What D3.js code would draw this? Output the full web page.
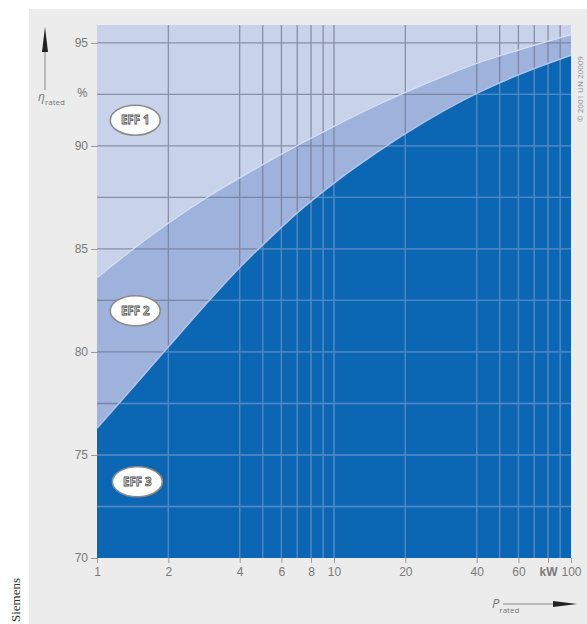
<!DOCTYPE html>
<html>
<head>
<meta charset="utf-8">
<script src="https://cdn.jsdelivr.net/npm/d3@7"></script>
<style>
  body { margin: 0; background: #ffffff; }
  #chart { width: 587px; height: 624px; }
</style>
</head>
<body>
<div id="chart"></div>
<script>

// rated power (kW) and efficiency limits
var powers      = [1, 1.5, 2, 3, 4, 5.5, 7.5, 10, 15, 20, 30, 40, 60, 100]
var eff1Limit   = [83.6, 85.2, 86.25, 87.6, 88.45, 89.35, 90.2, 90.95, 91.95, 92.6, 93.45, 94.0, 94.65, 95.4]
var eff2Limit   = [76.3, 78.6, 80.25, 82.55, 84.1, 85.65, 87.05, 88.2, 89.65, 90.6, 91.8, 92.55, 93.45, 94.4]

var xGrid       = [2, 4, 5, 6, 7, 8, 9, 10, 20, 40, 50, 60, 70, 80, 90]
var yGrid       = [72.5, 75, 77.5, 80, 82.5, 85, 87.5, 90, 92.5, 95]
var yTicks      = [70, 75, 80, 85, 90, 95]
var xTicks      = [1, 2, 4, 6, 8, 10, 20, 40, 60, 80, 100]
var xTickLabels = ["1", "2", "4", "6", "8", "10", "20", "40", "60", "kW", "100"]

var classNames  = ["EFF 1", "EFF 2", "EFF 3"]
var classAtP    = [1.45, 1.45, 1.48]
var classAtEff  = [91.25, 82.0, 73.7]

var W = 587, H = 624
var plotL = 97, plotR = 571, plotT = 25, plotB = 558

var svg = d3.select("#chart")
    .append("svg")
    .attr("width", W)
    .attr("height", H)
    .style("font-family", "'Open Sans', 'DejaVu Sans', sans-serif")

// grey panel behind the chart
svg.append("rect")
    .attr("x", 29).attr("y", 9)
    .attr("width", W - 29).attr("height", H - 9)
    .attr("fill", "#ececec")

var x = d3.scaleLog().domain([1, 100]).range([plotL, plotR])
var y = d3.scaleLinear().domain([70, 95.87]).range([plotB, plotT])

var rows = powers.map(function(p, i) { return {p: p, a: eff1Limit[i], b: eff2Limit[i]} })

// EFF 1 region = whole plot
svg.append("rect")
    .attr("x", plotL).attr("y", plotT)
    .attr("width", plotR - plotL).attr("height", plotB - plotT)
    .attr("fill", "#c8d2ea")

// EFF 2 band
svg.append("path")
    .datum(rows)
    .attr("fill", "#9eb2db")
    .attr("d", d3.area()
        .curve(d3.curveMonotoneX)
        .x(function(d) { return x(d.p) })
        .y0(plotB)
        .y1(function(d) { return y(d.a) }))

// EFF 3 area
var eff3Area = d3.area()
    .curve(d3.curveMonotoneX)
    .x(function(d) { return x(d.p) })
    .y0(plotB)
    .y1(function(d) { return y(d.b) })

svg.append("path")
    .datum(rows)
    .attr("fill", "#0b66b3")
    .attr("d", eff3Area)

svg.append("clipPath").attr("id", "eff3clip")
    .append("path").datum(rows).attr("d", eff3Area)

// grid lines, drawn twice: dark on the light bands, light on the dark blue
function drawGrid(g, colour, width) {
    g.selectAll(".gx").data(xGrid).enter().append("line")
        .attr("x1", function(d) { return x(d) }).attr("x2", function(d) { return x(d) })
        .attr("y1", plotT).attr("y2", plotB)
        .attr("stroke", colour).attr("stroke-width", width)
    g.selectAll(".gy").data(yGrid).enter().append("line")
        .attr("x1", plotL).attr("x2", plotR)
        .attr("y1", function(d) { return y(d) }).attr("y2", function(d) { return y(d) })
        .attr("stroke", colour).attr("stroke-width", width)
}

drawGrid(svg.append("g").attr("opacity", 0.7), "#6f7390", 1.3)
drawGrid(svg.append("g").attr("clip-path", "url(#eff3clip)"), "#4a8acb", 1.3)

// light edges along the class limits
svg.append("path")
    .datum(rows)
    .attr("fill", "none")
    .attr("stroke", "#d6e0f3")
    .attr("stroke-width", 1.2)
    .attr("d", d3.line().curve(d3.curveMonotoneX)
        .x(function(d) { return x(d.p) }).y(function(d) { return y(d.a) }))

svg.append("path")
    .datum(rows)
    .attr("fill", "none")
    .attr("stroke", "#a8c6ee")
    .attr("stroke-width", 1.6)
    .attr("d", d3.line().curve(d3.curveMonotoneX)
        .x(function(d) { return x(d.p) }).y(function(d) { return y(d.b) }))

// Y axis
var yAxis = svg.append("g")
    .attr("transform", "translate(" + plotL + ",0)")
    .call(d3.axisLeft(y).tickValues(yTicks).tickSize(6).tickPadding(3))
yAxis.select(".domain").remove()
yAxis.selectAll("line").attr("stroke", "#9a9a9a")
yAxis.selectAll("text").attr("fill", "#7a7a7a").style("font-size", "12px")

// X axis
var xAxis = svg.append("g")
    .attr("transform", "translate(0," + plotB + ")")
    .call(d3.axisBottom(x).tickValues(xTicks).tickSize(5).tickPadding(4)
        .tickFormat(function(d, i) { return xTickLabels[i] }))
xAxis.select(".domain").remove()
xAxis.selectAll("line").attr("stroke", "#9a9a9a")
xAxis.selectAll("text").attr("fill", "#7a7a7a").style("font-size", "12px")
    .style("font-weight", function(d, i) { return xTickLabels[i] === "kW" ? "bold" : "normal" })

// class labels in white ellipses
var tags = svg.selectAll(".tag")
    .data(classNames)
    .enter().append("g")
    .attr("transform", function(d, i) { return "translate(" + x(classAtP[i]) + "," + y(classAtEff[i]) + ")" })

tags.append("ellipse")
    .attr("rx", 25).attr("ry", 15)
    .attr("fill", "#ffffff")
    .attr("stroke", "#8a8a8a")
    .attr("stroke-width", 1.6)

tags.append("text")
    .attr("text-anchor", "middle")
    .attr("dy", "0.36em")
    .attr("fill", "#f6f6f6")
    .attr("stroke", "#505050")
    .attr("stroke-width", 0.8)
    .style("font-size", "11.5px")
    .style("font-weight", "bold")
    .text(function(d) { return d })

// y axis title with arrow
svg.append("line")
    .attr("x1", 45).attr("x2", 45).attr("y1", 50).attr("y2", 90)
    .attr("stroke", "#888").attr("stroke-width", 1)
svg.append("path")
    .attr("d", "M45,27 L42,52 L48,52 Z")
    .attr("fill", "#222")

var yTitle = svg.append("text")
    .attr("x", 38).attr("y", 101)
    .attr("fill", "#777")
    .style("font-size", "12px")
yTitle.append("tspan").style("font-style", "italic").text("η")
yTitle.append("tspan").attr("dy", 4).style("font-size", "8px").text("rated")
yTitle.append("tspan").attr("x", 77).attr("dy", -8).style("font-size", "13px").text("%")

// x axis title with arrow
var xTitle = svg.append("text")
    .attr("x", 492).attr("y", 608)
    .attr("fill", "#777")
    .style("font-size", "13px")
xTitle.append("tspan").style("font-style", "italic").text("P")
xTitle.append("tspan").attr("dy", 5).style("font-size", "8px").text("rated")

svg.append("line")
    .attr("x1", 503).attr("x2", 558).attr("y1", 604).attr("y2", 604)
    .attr("stroke", "#888").attr("stroke-width", 1)
svg.append("path")
    .attr("d", "M577,604 L553,601 L553,607 Z")
    .attr("fill", "#222")

// credit lines
svg.append("text")
    .attr("transform", "translate(583,122) rotate(-90)")
    .attr("fill", "#8a8a8a")
    .style("font-size", "8px")
    .text("© 2001 UN 20009")

svg.append("text")
    .attr("transform", "translate(20,622) rotate(-90)")
    .attr("fill", "#333")
    .style("font-family", "'Liberation Serif', serif")
    .style("font-size", "13px")
    .text("Siemens")

</script>
</body>
</html>
